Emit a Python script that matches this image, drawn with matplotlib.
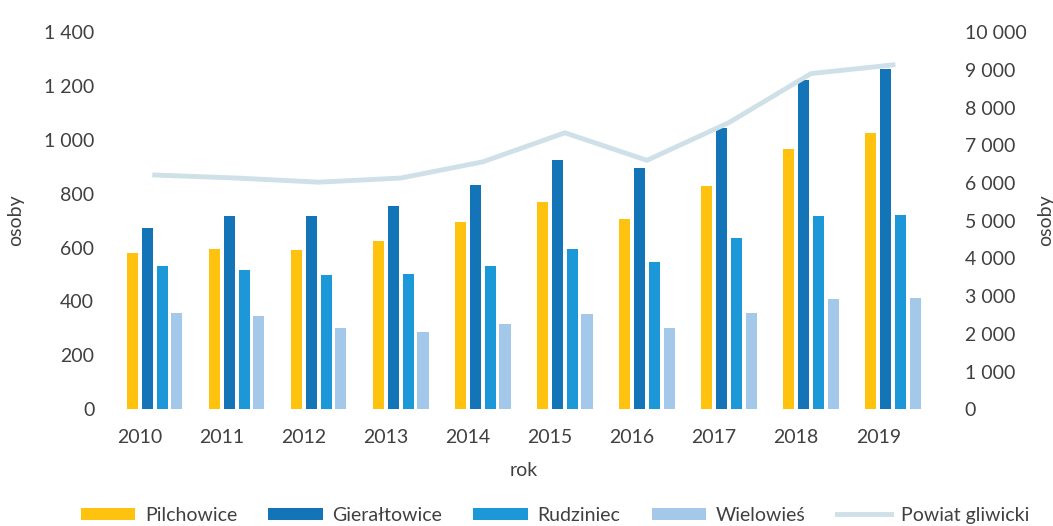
import numpy as np
from matplotlib import pyplot as plt
from matplotlib.ticker import FuncFormatter

plt.rcParams['font.family'] = ['Lato', 'DejaVu Sans']

# data
years = ["2010", "2011", "2012", "2013", "2014", "2015", "2016", "2017", "2018", "2019"]
pilchowice = [581, 594, 590, 626, 694, 770, 708, 829, 967, 1025]
gieraltowice = [672, 718, 717, 755, 832, 926, 895, 1043, 1223, 1263]
rudziniec = [533, 518, 497, 503, 530, 595, 548, 634, 716, 720]
wielowies = [356, 345, 301, 286, 318, 355, 302, 356, 410, 413]
powiat = [6210, 6130, 6020, 6130, 6560, 7330, 6600, 7600, 8900, 9130]

series = [("Pilchowice", pilchowice, "#FFC20E"),
          ("Gierałtowice", gieraltowice, "#1474B8"),
          ("Rudziniec", rudziniec, "#1C97D8"),
          ("Wielowieś", wielowies, "#A3C8EA")]

txt = "#404040"
fs = 14

def spaced(v, pos):
    return "{:,}".format(int(v)).replace(",", " ")

fig = plt.figure(figsize=(10.53, 5.26), dpi=100)
ax = fig.add_axes([0.108, 0.222, 0.779, 0.717])
ax2 = ax.twinx()

x = np.arange(len(years))
w = 0.135
step = 0.18
for k, (name, vals, col) in enumerate(series):
    ax.bar(x + (k - 1.5) * step, vals, width=w, color=col, label=name)

ax2.plot(x, powiat, color="#CFE0E8", lw=3.5, label="Powiat gliwicki")

ax.set_xlim(-0.5, len(years) - 0.5)
ax.set_ylim(0, 1400)
ax.set_yticks(range(0, 1401, 200))
ax2.set_ylim(0, 10000)
ax2.set_yticks(range(0, 10001, 1000))
ax.yaxis.set_major_formatter(FuncFormatter(spaced))
ax2.yaxis.set_major_formatter(FuncFormatter(spaced))

ax.set_xticks(x - 0.18)
ax.set_xticklabels(years)

for a in (ax, ax2):
    for s in a.spines.values():
        s.set_visible(False)
    a.tick_params(length=0, labelsize=fs, colors=txt)
ax.tick_params(axis="y", pad=14)
ax2.tick_params(axis="y", pad=22)
ax.tick_params(axis="x", pad=14)

ax.set_ylabel("osoby", fontsize=fs, color=txt, labelpad=14)
ax2.set_ylabel("osoby", fontsize=fs, color=txt, labelpad=8)
ax.set_xlabel("rok", fontsize=fs, color=txt, labelpad=12)

h1, l1 = ax.get_legend_handles_labels()
h2, l2 = ax2.get_legend_handles_labels()
fig.legend(h1 + h2, l1 + l2, loc="center", bbox_to_anchor=(0.527, 0.02), ncol=5,
           frameon=False, fontsize=fs, labelcolor=txt, handlelength=2.8,
           handleheight=0.6, columnspacing=1.6, handletextpad=0.5)

fig.savefig("out.png", dpi=100)
